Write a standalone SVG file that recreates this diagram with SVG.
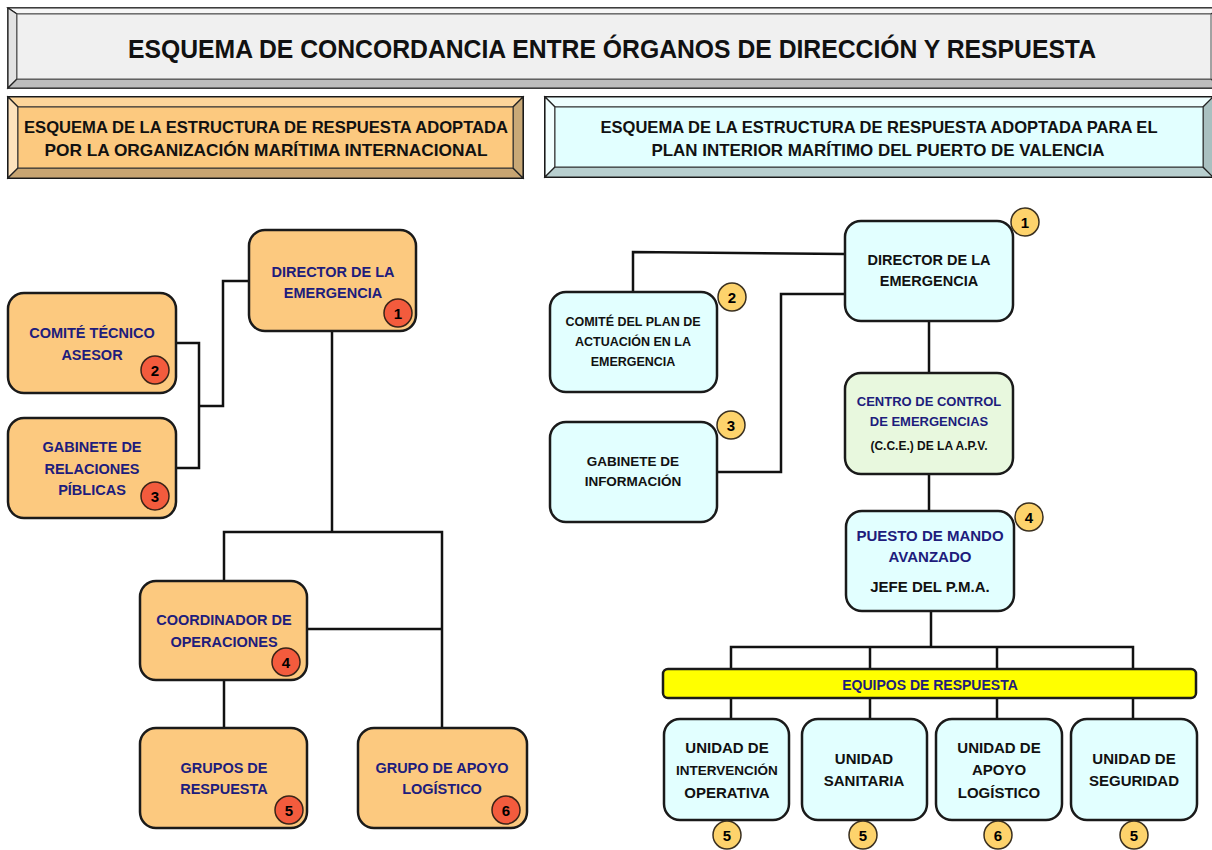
<svg xmlns="http://www.w3.org/2000/svg" width="1212" height="850" viewBox="0 0 1212 850">
<style>
text{font-family:"Liberation Sans",Arial,sans-serif;font-weight:bold;text-anchor:middle}
.or{fill:#fcc97f;stroke:#1a1a1a;stroke-width:2.5}
.cy{fill:#e2ffff;stroke:#1a1a1a;stroke-width:2.5}
.gr{fill:#e8f8de;stroke:#1a1a1a;stroke-width:2.5}
.bar{fill:#ffff00;stroke:#1a1a1a;stroke-width:2.5}
.nv{fill:#201c7c}
.bk{fill:#111}
.bl{fill:#f35b3d;stroke:#3a2418;stroke-width:1.5}
.by{fill:#fdd36c;stroke:#3a3020;stroke-width:1.5}
.bn{font-size:15px;fill:#000}
.conn path{fill:none;stroke:#111;stroke-width:2.5}
.edge{stroke:#222;stroke-width:1.2}
</style>

<!-- Title banner -->
<g id="title">
  <rect x="8" y="8" width="1212" height="80" fill="#efefef" stroke="#222" stroke-width="1.5"/>
  <polygon points="8,8 1220,8 1211,14 17,14" fill="#f7f7f7" class="edge"/>
  <polygon points="8,8 17,14 17,79 8,88" fill="#e2e2e2" class="edge"/>
  <polygon points="8,88 17,79 1211,79 1220,88" fill="#bdbdbd" class="edge"/>
  <rect x="17" y="14" width="1194" height="65" fill="#f0f0f0" stroke="#555" stroke-width="1"/>
  <text x="612" y="58" font-size="26" fill="#111" textLength="968" lengthAdjust="spacingAndGlyphs">ESQUEMA DE CONCORDANCIA ENTRE ÓRGANOS DE DIRECCIÓN Y RESPUESTA</text>
</g>

<!-- Left header -->
<g id="header-left">
  <rect x="8" y="97" width="515" height="81" fill="#fcc97f" stroke="#111" stroke-width="2"/>
  <polygon points="8,97 523,97 513,107 18,107" fill="#fdd59a" class="edge"/>
  <polygon points="8,97 18,107 18,168 8,178" fill="#fde2bc" class="edge"/>
  <polygon points="8,178 18,168 513,168 523,178" fill="#c8a572" class="edge"/>
  <polygon points="523,97 513,107 513,168 523,178" fill="#c9a977" class="edge"/>
  <rect x="18" y="107" width="495" height="61" fill="#fcc97f" stroke="#333" stroke-width="1"/>
  <text x="266" y="133" font-size="16.5" fill="#111" textLength="484" lengthAdjust="spacingAndGlyphs">ESQUEMA DE LA ESTRUCTURA DE RESPUESTA ADOPTADA</text>
  <text x="266" y="156" font-size="16.5" fill="#111" textLength="443" lengthAdjust="spacingAndGlyphs">POR LA ORGANIZACIÓN MARÍTIMA INTERNACIONAL</text>
</g>

<!-- Right header -->
<g id="header-right">
  <rect x="545" y="97" width="668" height="80" fill="#e2ffff" stroke="#111" stroke-width="2"/>
  <polygon points="545,97 1213,97 1203,107 555,107" fill="#eefefe" class="edge"/>
  <polygon points="545,97 555,107 555,167 545,177" fill="#f2ffff" class="edge"/>
  <polygon points="545,177 555,167 1203,167 1213,177" fill="#b8cfcf" class="edge"/>
  <polygon points="1213,97 1203,107 1203,167 1213,177" fill="#a9c0c0" class="edge"/>
  <rect x="555" y="107" width="648" height="60" fill="#e2ffff" stroke="#333" stroke-width="1"/>
  <text x="879" y="133" font-size="16.5" fill="#111" textLength="557" lengthAdjust="spacingAndGlyphs">ESQUEMA DE LA ESTRUCTURA DE RESPUESTA ADOPTADA PARA EL</text>
  <text x="878" y="156" font-size="16.5" fill="#111" textLength="453" lengthAdjust="spacingAndGlyphs">PLAN INTERIOR MARÍTIMO DEL PUERTO DE VALENCIA</text>
</g>

<!-- Connectors -->
<g id="connectors" class="conn">
  <path d="M176 343 H199 V468 H176"/>
  <path d="M199 406 H223 V281 H249"/>
  <path d="M332 331 V532"/>
  <path d="M224 581 V532 H442 V728"/>
  <path d="M307 629 H442"/>
  <path d="M224 680 V728"/>
  <path d="M633 292 V252 L845 254"/>
  <path d="M845 294 H781 V472 H717"/>
  <path d="M929 321 V373"/>
  <path d="M929 474 V511"/>
  <path d="M931 611 V647"/>
  <path d="M731 669 V647 H1133 V669"/>
  <path d="M870 647 V669"/>
  <path d="M997 647 V669"/>
  <path d="M731 698 V719"/>
  <path d="M870 698 V719"/>
  <path d="M997 698 V719"/>
  <path d="M1133 698 V719"/>
</g>

<!-- Left (OMI) nodes -->
<g id="l-director">
  <rect class="or" x="249" y="230" width="167" height="101" rx="16"/>
  <text class="nv" x="333" y="277" font-size="14.5">DIRECTOR DE LA</text>
  <text class="nv" x="333" y="298" font-size="14.5">EMERGENCIA</text>
  <circle class="bl" cx="398" cy="313" r="14"/><text class="bn" x="398" y="318.5">1</text>
</g>
<g id="l-comite">
  <rect class="or" x="8" y="293" width="168" height="100" rx="16"/>
  <text class="nv" x="92" y="338" font-size="14.5">COMITÉ TÉCNICO</text>
  <text class="nv" x="92" y="360" font-size="14.5">ASESOR</text>
  <circle class="bl" cx="155" cy="370" r="14"/><text class="bn" x="155" y="375.5">2</text>
</g>
<g id="l-gabinete">
  <rect class="or" x="8" y="418" width="168" height="100" rx="16"/>
  <text class="nv" x="92" y="452" font-size="14.5">GABINETE DE</text>
  <text class="nv" x="92" y="474" font-size="14.5">RELACIONES</text>
  <text class="nv" x="92" y="495" font-size="14.5">PÍBLICAS</text>
  <circle class="bl" cx="155" cy="496" r="14"/><text class="bn" x="155" y="501.5">3</text>
</g>
<g id="l-coordinador">
  <rect class="or" x="140" y="581" width="167" height="99" rx="16"/>
  <text class="nv" x="224" y="625" font-size="14.5">COORDINADOR DE</text>
  <text class="nv" x="224" y="647" font-size="14.5">OPERACIONES</text>
  <circle class="bl" cx="286" cy="662" r="14"/><text class="bn" x="286" y="667.5">4</text>
</g>
<g id="l-grupos">
  <rect class="or" x="140" y="728" width="167" height="100" rx="16"/>
  <text class="nv" x="224" y="773" font-size="14.5">GRUPOS DE</text>
  <text class="nv" x="224" y="794" font-size="14.5">RESPUESTA</text>
  <circle class="bl" cx="289" cy="810" r="14"/><text class="bn" x="289" y="815.5">5</text>
</g>
<g id="l-apoyo">
  <rect class="or" x="358" y="728" width="169" height="100" rx="16"/>
  <text class="nv" x="442" y="773" font-size="14.5">GRUPO DE APOYO</text>
  <text class="nv" x="442" y="794" font-size="14.5">LOGÍSTICO</text>
  <circle class="bl" cx="506" cy="810" r="14"/><text class="bn" x="506" y="815.5">6</text>
</g>

<!-- Right (PIM Valencia) nodes -->
<g id="r-director">
  <rect class="cy" x="845" y="221" width="168" height="100" rx="16"/>
  <text class="bk" x="929" y="265" font-size="14.5">DIRECTOR DE LA</text>
  <text class="bk" x="929" y="286" font-size="14.5">EMERGENCIA</text>
  <circle class="by" cx="1025" cy="222" r="14"/><text class="bn" x="1025" y="227.5">1</text>
</g>
<g id="r-comite">
  <rect class="cy" x="550" y="292" width="167" height="100" rx="16"/>
  <text class="bk" x="633" y="326" font-size="12.5">COMITÉ DEL PLAN DE</text>
  <text class="bk" x="633" y="346" font-size="12.5">ACTUACIÓN EN LA</text>
  <text class="bk" x="633" y="366" font-size="12.5">EMERGENCIA</text>
  <circle class="by" cx="732" cy="297" r="14"/><text class="bn" x="732" y="302.5">2</text>
</g>
<g id="r-gabinete">
  <rect class="cy" x="550" y="422" width="167" height="100" rx="16"/>
  <text class="bk" x="633" y="466" font-size="13.5">GABINETE DE</text>
  <text class="bk" x="633" y="486" font-size="13.5">INFORMACIÓN</text>
  <circle class="by" cx="731" cy="425" r="14"/><text class="bn" x="731" y="430.5">3</text>
</g>
<g id="r-cce">
  <rect class="gr" x="845" y="373" width="168" height="101" rx="16"/>
  <text class="nv" x="929" y="406" font-size="13">CENTRO DE CONTROL</text>
  <text class="nv" x="929" y="426" font-size="13">DE EMERGENCIAS</text>
  <text class="bk" x="929" y="450" font-size="12">(C.C.E.) DE LA A.P.V.</text>
</g>
<g id="r-pma">
  <rect class="cy" x="846" y="511" width="168" height="100" rx="16"/>
  <text class="nv" x="930" y="541" font-size="15">PUESTO DE MANDO</text>
  <text class="nv" x="930" y="562" font-size="15">AVANZADO</text>
  <text class="bk" x="930" y="592" font-size="15">JEFE DEL P.M.A.</text>
  <circle class="by" cx="1029" cy="517" r="14"/><text class="bn" x="1029" y="522.5">4</text>
</g>
<g id="r-equipos">
  <rect class="bar" x="663" y="669" width="533" height="29" rx="5"/>
  <text class="nv" x="930" y="690" font-size="14">EQUIPOS DE RESPUESTA</text>
</g>
<g id="r-u1">
  <rect class="cy" x="664" y="719" width="125" height="101" rx="16"/>
  <text class="bk" x="727" y="753" font-size="15">UNIDAD DE</text>
  <text class="bk" x="727" y="775" font-size="13.5">INTERVENCIÓN</text>
  <text class="bk" x="727" y="798" font-size="15">OPERATIVA</text>
  <circle class="by" cx="727" cy="835" r="14"/><text class="bn" x="727" y="840.5">5</text>
</g>
<g id="r-u2">
  <rect class="cy" x="802" y="719" width="125" height="101" rx="16"/>
  <text class="bk" x="864" y="764" font-size="15">UNIDAD</text>
  <text class="bk" x="864" y="786" font-size="15">SANITARIA</text>
  <circle class="by" cx="863" cy="835" r="14"/><text class="bn" x="863" y="840.5">5</text>
</g>
<g id="r-u3">
  <rect class="cy" x="936" y="719" width="126" height="101" rx="16"/>
  <text class="bk" x="999" y="753" font-size="15">UNIDAD DE</text>
  <text class="bk" x="999" y="775" font-size="15">APOYO</text>
  <text class="bk" x="999" y="798" font-size="15">LOGÍSTICO</text>
  <circle class="by" cx="998" cy="835" r="14"/><text class="bn" x="998" y="840.5">6</text>
</g>
<g id="r-u4">
  <rect class="cy" x="1071" y="719" width="126" height="101" rx="16"/>
  <text class="bk" x="1134" y="764" font-size="15">UNIDAD DE</text>
  <text class="bk" x="1134" y="786" font-size="15">SEGURIDAD</text>
  <circle class="by" cx="1134" cy="835" r="14"/><text class="bn" x="1134" y="840.5">5</text>
</g>
</svg>
